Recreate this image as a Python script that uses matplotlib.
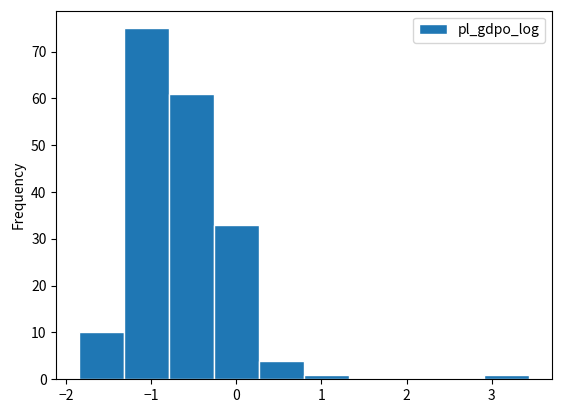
import matplotlib
matplotlib.use("Agg")
import matplotlib.pyplot as plt
import numpy as np

plt.rcParams['font.family'] = ['Noto Sans CJK JP', 'DejaVu Sans']
plt.rcParams['axes.unicode_minus'] = True

data_min = -1.847
data_max = 3.444
counts = [10, 75, 61, 33, 4, 1, 0, 0, 0, 1]
label = "pl_gdpo_log"

edges = np.linspace(data_min, data_max, len(counts) + 1)

fig = plt.figure(figsize=(5.61, 4.12), dpi=100)
ax = fig.add_axes([0.1004, 0.0794, 0.8836, 0.8947])
ax.hist(edges[:-1], bins=edges, weights=counts, color='#1f77b4',
        edgecolor='white', linewidth=1, label=label)
ax.set_ylabel("Frequency")
ax.legend(loc='upper right')
fig.savefig("out.png", dpi=100)
